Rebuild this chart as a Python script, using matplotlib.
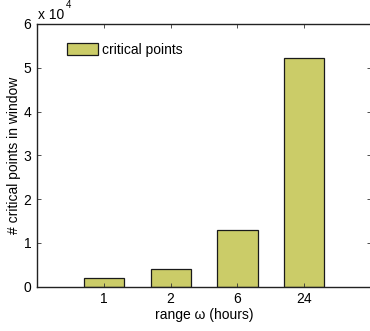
import matplotlib
matplotlib.use("Agg")
import matplotlib.pyplot as plt
from matplotlib.ticker import FuncFormatter

plt.rcParams['font.family'] = ['Liberation Sans', 'DejaVu Sans']
plt.rcParams['font.size'] = 10

# window ranges and the number of critical points found in each
categories = ["1", "2", "6", "24"]
critical_points = [1900, 4100, 12900, 52300]
series_name = "critical points"

fig = plt.figure(figsize=(3.70, 3.31), dpi=100)
ax = fig.add_axes([0.1, 0.1338, 0.9030, 0.7937])

pos = list(range(1, len(categories) + 1))
ax.bar(pos, critical_points, width=0.6, color="#CBCC68",
       edgecolor="#1a1a1a", linewidth=0.9, label=series_name)

ax.set_xlim(0, 5)
ax.set_ylim(0, 60000)
ax.set_xticks(pos)
ax.set_xticklabels(categories)
ax.set_yticks(range(0, 60001, 10000))
ax.yaxis.set_major_formatter(FuncFormatter(lambda v, _: f"{v / 1e4:g}"))

ax.tick_params(direction="in", length=3, width=0.6, top=True, right=True,
               labelsize=10, pad=4, color="#333333")
for s in ax.spines.values():
    s.set_linewidth(1.0)
    s.set_color("#222222")

ax.set_xlabel("range \u03c9 (hours)", labelpad=1)
ax.set_ylabel("# critical points in window")
ax.yaxis.set_label_coords(-0.049, 0.5)

# exponent marker for the y axis
fig.text(0.102, 0.9426, "x 10", fontsize=10, ha="left", va="baseline")
fig.text(0.1776, 0.975, "4", fontsize=7, ha="left", va="baseline")

ax.legend(loc="upper left", bbox_to_anchor=(0.061, 0.965), frameon=False,
          handlelength=2.23, handleheight=1.0, handletextpad=0.25,
          borderaxespad=0.3, fontsize=10)

fig.savefig("out.png", dpi=100)
